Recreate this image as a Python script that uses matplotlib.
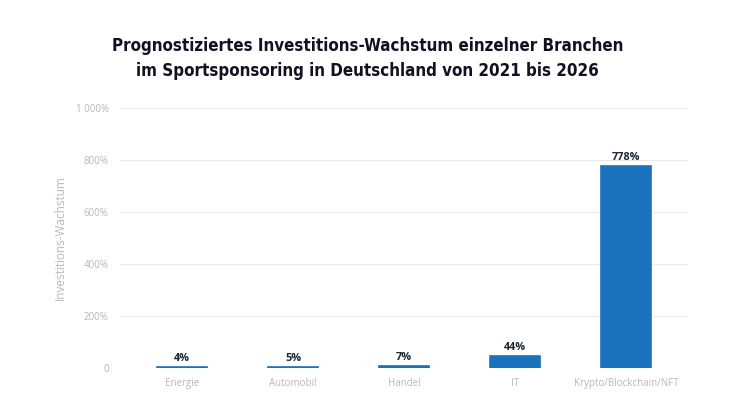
import matplotlib
matplotlib.use('Agg')
import matplotlib.pyplot as plt

branchen = ['Energie', 'Automobil', 'Handel', 'IT', 'Krypto/Blockchain/NFT']
wachstum = [4, 5, 7, 44, 778]
labels = ['4%', '5%', '7%', '44%', '778%']
yticks = [0, 200, 400, 600, 800, 1000]
ytick_labels = ['0', '200%', '400%', '600%', '800%', '1 000%']

plt.rcParams['font.family'] = ['Open Sans', 'DejaVu Sans']

fig = plt.figure(figsize=(7.4, 4.2), dpi=100)
ax = fig.add_axes([0.162, 0.124, 0.768, 0.619])

x = range(len(branchen))
ax.bar(x, wachstum, width=0.45, color='#1a72bd', edgecolor='#1a72bd', linewidth=1.2, zorder=3)
for xi, v, lab in zip(x, wachstum, labels):
    ax.text(xi, v + 12, lab, ha='center', va='bottom', fontsize=7.8,
            fontweight='bold', color='#1a2535')

ax.set_xlim(-0.56, 4.56)
ax.set_ylim(0, 1000)
ax.set_yticks(yticks)
ax.set_yticklabels(ytick_labels)
ax.set_xticks(list(x))
ax.set_xticklabels(branchen)
ax.tick_params(axis='both', length=0, labelsize=7, labelcolor='#b8b8b8')
ax.tick_params(axis='y', pad=8)
ax.tick_params(axis='x', pad=7)
ax.grid(axis='y', color='#ebebeb', linewidth=0.8, zorder=0)
for s in ax.spines.values():
    s.set_visible(False)
ax.set_ylabel('Investitions-Wachstum', fontsize=8.5, color='#b8b8b8', labelpad=6)

fig.suptitle('Prognostiziertes Investitions-Wachstum einzelner Branchen\nim Sportsponsoring in Deutschland von 2021 bis 2026',
             x=0.497, y=0.912, fontsize=12.2, fontweight='bold', color='#111122',
             family='DejaVu Sans', stretch='condensed', linespacing=1.5)

fig.savefig('out.png', dpi=100, facecolor='white')
